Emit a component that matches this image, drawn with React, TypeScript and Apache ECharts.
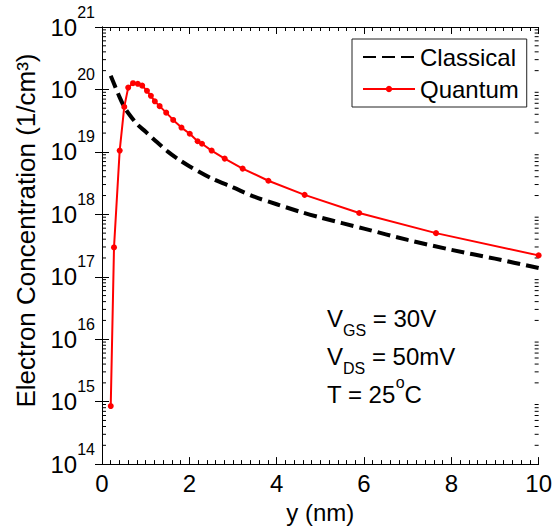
import React, { useEffect, useRef } from "react";
import * as echarts from "echarts";

// Classical (dashed black) curve: y (nm) and electron concentration (1/cm^3)
const classicalX = [0.2, 0.3, 0.4, 0.5, 0.6, 0.8, 1.0, 1.25, 1.5, 1.75, 2.0, 2.5, 3.0, 3.5, 4.0, 4.5, 5.0, 6.0, 7.0, 8.0, 9.0, 10.0];
const classicalN = [1.66e20, 1.12e20, 7.6e19, 5.4e19, 4.2e19, 2.8e19, 2.1e19, 1.45e19, 1.02e19, 7.6e18, 5.9e18, 3.8e18, 2.7e18, 1.9e18, 1.45e18, 1.12e18, 8.9e17, 5.9e17, 3.9e17, 2.7e17, 1.95e17, 1.38e17];

// Quantum (red, with markers) curve
const quantumX = [0.2, 0.275, 0.405, 0.51, 0.6, 0.71, 0.82, 0.92, 1.03, 1.12, 1.21, 1.32, 1.47, 1.63, 1.82, 2.01, 2.19, 2.29, 2.51, 2.81, 3.22, 3.81, 4.64, 5.89, 7.65, 10.0];
const quantumN = [8.5e14, 2.95e17, 1.05e19, 5.25e19, 1.07e20, 1.26e20, 1.23e20, 1.15e20, 9.5e19, 7.9e19, 6.45e19, 5.4e19, 4.25e19, 3.25e19, 2.45e19, 1.95e19, 1.48e19, 1.35e19, 1.05e19, 7.8e18, 5.4e18, 3.45e18, 2.05e18, 1.05e18, 5.0e17, 2.2e17];

// Axis settings
const xMin = 0;
const xMax = 10;
const xStep = 2;
const yMinExp = 14;
const yMaxExp = 21;
const minorMultipliers = [2, 3, 4, 5, 6, 7, 8, 9];

// Texts
const seriesNames = ["Classical", "Quantum"];
const xTitle = "y (nm)";
const yTitle = "Electron Concentration (1/cm\u00B3)";

const FONT = "Liberation Sans, Arial, Helvetica, sans-serif";
const FS = 24;

export default function App() {
  const ref = useRef<HTMLDivElement>(null);

  useEffect(() => {
    if (!ref.current) return;
    const chart = echarts.init(ref.current, undefined, { renderer: "svg" });

    const minorVals: number[][] = [];
    for (let e = yMinExp; e < yMaxExp; e++) {
      for (const m of minorMultipliers) minorVals.push([xMin, m * Math.pow(10, e)]);
    }

    const supRich = {
      b: { fontSize: FS, fontFamily: FONT, color: "#000", lineHeight: FS, verticalAlign: "bottom" },
      s: { fontSize: 16, fontFamily: FONT, color: "#000", lineHeight: 35, verticalAlign: "top" },
    };

    const yAxisCommon = {
      type: "log",
      logBase: 10,
      min: Math.pow(10, yMinExp),
      max: Math.pow(10, yMaxExp),
      interval: 1,
      splitNumber: yMaxExp - yMinExp,
      splitLine: { show: false },
      axisLine: { show: true, lineStyle: { color: "#000", width: 1 } },
      axisTick: { show: true, inside: true, length: 7, lineStyle: { color: "#000" } },
      minorTick: { show: false },
    };
    const xAxisCommon = {
      type: "value",
      min: xMin,
      max: xMax,
      interval: xStep,
      splitLine: { show: false },
      axisLine: { show: true, lineStyle: { color: "#000", width: 1 } },
      axisTick: { show: true, inside: true, length: 7, lineStyle: { color: "#000" } },
      minorTick: { show: true, splitNumber: 10, length: 4, lineStyle: { color: "#000" } },
    };

    const subRich = {
      b: { fontSize: FS, fontFamily: FONT, fill: "#000", lineHeight: FS, verticalAlign: "top" },
      s: { fontSize: 16, fontFamily: FONT, fill: "#000", lineHeight: 32, verticalAlign: "bottom" },
    };
    const degRich = {
      b: { fontSize: FS, fontFamily: FONT, fill: "#000", lineHeight: FS, verticalAlign: "bottom" },
      s: { fontSize: 16, fontFamily: FONT, fill: "#000", lineHeight: 32, verticalAlign: "top" },
    };

    const option = {
      animation: false,
      backgroundColor: "#fff",
      textStyle: { fontFamily: FONT },
      grid: { left: 102, top: 27, width: 437, height: 438, containLabel: false },
      legend: {
        show: true,
        data: [
          { name: seriesNames[0], itemStyle: { color: "rgba(0,0,0,0)", opacity: 0, borderWidth: 0 } },
          { name: seriesNames[1] },
        ],
        orient: "vertical",
        left: 352,
        top: 39,
        padding: [6, 8, 6, 10],
        itemGap: 8,
        itemWidth: 52,
        itemHeight: 8,
        borderColor: "#222",
        borderWidth: 1,
        backgroundColor: "#fff",
        textStyle: { fontSize: FS, fontFamily: FONT, color: "#000", lineHeight: 24 },
      },
      xAxis: [
        {
          ...xAxisCommon,
          position: "bottom",
          name: xTitle,
          nameLocation: "middle",
          nameGap: 32,
          nameTextStyle: { fontSize: FS, fontFamily: FONT, color: "#000" },
          axisLabel: { show: true, margin: 7, fontSize: FS, fontFamily: FONT, color: "#000" },
        },
        {
          ...xAxisCommon,
          position: "top",
          axisLabel: { show: false },
        },
      ],
      yAxis: [
        {
          ...yAxisCommon,
          position: "left",
          name: yTitle,
          nameLocation: "middle",
          nameGap: 63,
          nameTextStyle: { fontSize: 26, fontFamily: FONT, color: "#000", padding: [0, 0, 0, 30] },
          axisLabel: {
            show: true,
            margin: 7,
            padding: [0, 0, 11, 0],
            formatter: (v: number) => `{b|10}{s|${Math.round(Math.log10(v))}}`,
            rich: supRich,
          },
        },
        {
          ...yAxisCommon,
          position: "right",
          axisLabel: { show: false },
        },
      ],
      series: [
        {
          name: seriesNames[0],
          type: "line",
          data: classicalX.map((x, i) => [x, classicalN[i]]),
          showSymbol: false,
          symbol: "none",
          smooth: 0.3,
          lineStyle: { color: "#000", width: 4, type: [13, 6] },
          itemStyle: { color: "#000" },
          z: 3,
        },
        {
          name: seriesNames[1],
          type: "line",
          data: quantumX.map((x, i) => [x, quantumN[i]]),
          symbol: "circle",
          symbolSize: 6,
          showSymbol: true,
          lineStyle: { color: "#ff0000", width: 2 },
          itemStyle: { color: "#ff0000" },
          z: 4,
        },
        {
          name: "minorTicksY",
          type: "custom",
          silent: true,
          clip: false,
          data: minorVals,
          renderItem: (params: any, api: any) => {
            const v = api.value(1);
            const l = api.coord([xMin, v]);
            const r = api.coord([xMax, v]);
            const st = { stroke: "#000", lineWidth: 1 };
            return {
              type: "group",
              children: [
                { type: "line", shape: { x1: l[0], y1: l[1], x2: l[0] + 4, y2: l[1] }, style: st },
                { type: "line", shape: { x1: r[0] - 4, y1: r[1], x2: r[0], y2: r[1] }, style: st },
              ],
            };
          },
          z: 2,
        },
      ],
      graphic: [
        {
          type: "text",
          left: 327,
          top: 306,
          style: { text: "{b|V}{s|GS}{b| = 30V}", rich: subRich },
        },
        {
          type: "text",
          left: 327,
          top: 344,
          style: { text: "{b|V}{s|DS}{b| = 50mV}", rich: subRich },
        },
        {
          type: "text",
          left: 327,
          top: 374,
          style: { text: "{b|T = 25}{s|o}{b|C}", rich: degRich },
        },
      ],
    };

    chart.setOption(option as any);
    return () => chart.dispose();
  }, []);

  return (
    <div
      ref={ref}
      style={{ position: "absolute", left: 0, top: 0, width: 555, height: 529, background: "#fff" }}
    />
  );
}
